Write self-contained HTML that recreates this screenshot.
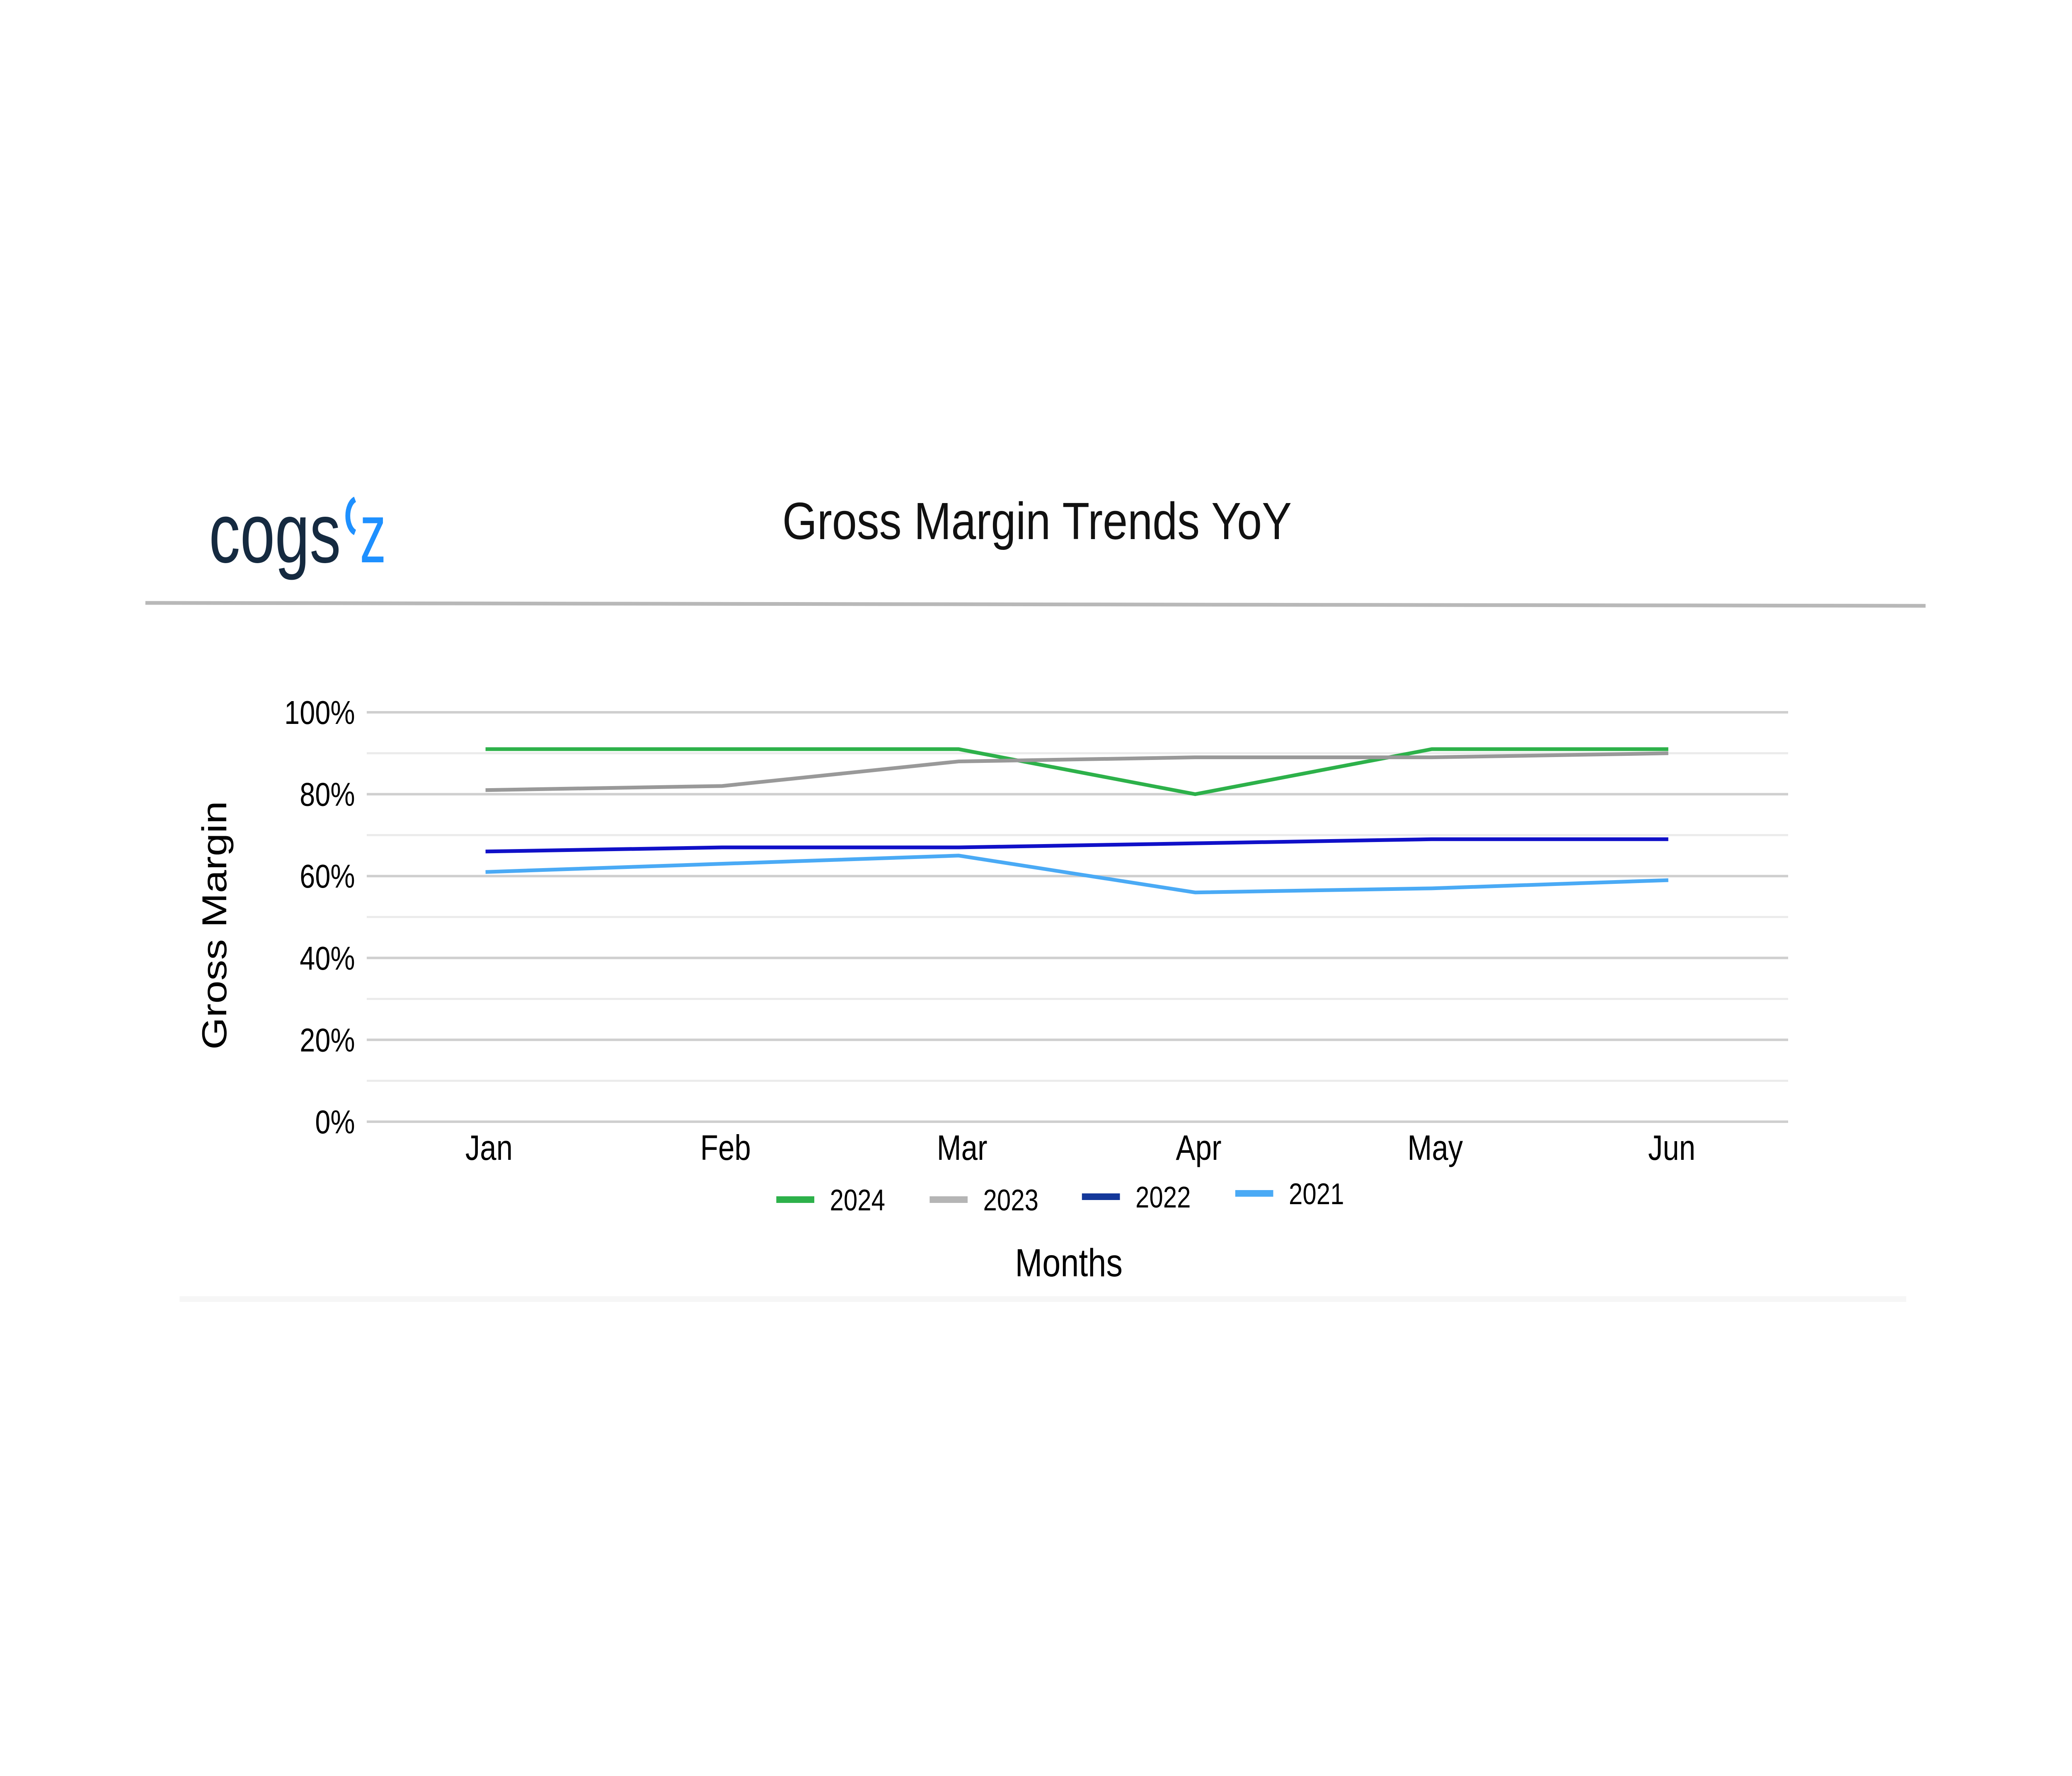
<!DOCTYPE html>
<html><head><meta charset="utf-8">
<style>
html,body{margin:0;padding:0;background:#fff;width:100%;height:100%;overflow:hidden;}
svg{display:block;width:100vw;height:100vh;}
text{font-family:"Liberation Sans",sans-serif;}
</style></head>
<body>
<svg id="chart" viewBox="0 0 6000 4286" preserveAspectRatio="none" xmlns="http://www.w3.org/2000/svg">
  <rect x="0" y="0" width="6000" height="4286" fill="#fff"/>
  <rect x="520" y="3128" width="5000" height="14" fill="#f6f6f6"/>
  <g>
    <text x="605" y="1357" font-size="205" fill="#152a40" textLength="382" lengthAdjust="spacingAndGlyphs">cogs</text>
    <text x="1042" y="1357" font-size="205" fill="#1e90ff" textLength="76" lengthAdjust="spacingAndGlyphs">z</text>
    <path d="M1028 1205 A30 42 0 0 0 1028 1285" stroke="#1e90ff" stroke-width="14" fill="none"/>
  </g>
  <text x="3003" y="1301" font-size="126" text-anchor="middle" fill="#111" textLength="1475" lengthAdjust="spacingAndGlyphs">Gross Margin Trends YoY</text>
  <line x1="421" y1="1455" x2="5576" y2="1462" stroke="#b8b8b8" stroke-width="9"/>
  <g id="grid"></g>
  <g id="series"></g>
  <g id="labels"></g>
  <text transform="translate(655,2233) rotate(-90)" font-size="100" text-anchor="middle" fill="#000">Gross Margin</text>
  <text x="3095" y="3080" font-size="95" text-anchor="middle" fill="#000">Months</text>
  <g id="legend"></g>
</svg>
<script>
const categories = ["Jan","Feb","Mar","Apr","May","Jun"];
const seriesNames = ["2024","2023","2022","2021"];
const values2024 = [91,91,91,80,91,91];
const values2023 = [81,82,88,89,89,90];
const values2022 = [66,67,67,68,69,69];
const values2021 = [61,63,65,56,57,59];
const yTicks = [0,20,40,60,80,100];
const yTickLabels = ["0%","20%","40%","60%","80%","100%"];
const minorTicks = [10,30,50,70,90];

const NS = "http://www.w3.org/2000/svg";
const plotL = 1062, plotR = 5178;
const y0 = 2707, y100 = 1719;
const xFirst = 1406, xStep = 685;
function xScale(i){ return xFirst + i*xStep; }
function yScale(v){ return y0 + (y100 - y0) * v / 100; }
function mk(tag, attrs, parent){
  const e = document.createElementNS(NS, tag);
  for (const k in attrs) e.setAttribute(k, attrs[k]);
  parent.appendChild(e);
  return e;
}
const grid = document.getElementById('grid');
minorTicks.forEach(v => {
  const l = mk('line', {x1:plotL, x2:plotR, y1:yScale(v), y2:yScale(v), stroke:'#ebebeb', 'stroke-width':5}, grid);
  
  
});
const labels = document.getElementById('labels');
yTicks.forEach((v, i) => {
  const l = mk('line', {x1:plotL, x2:plotR, y1:yScale(v), y2:yScale(v), stroke:'#cfcfcf', 'stroke-width':6}, grid);
  
  
  const t = mk('text', {x:1028, y:yScale(v)+28, 'font-size':80, 'text-anchor':'end', fill:'#000'}, labels);
  t.textContent = yTickLabels[i];
  
  
});
categories.forEach((c, i) => {
  const t = mk('text', {x:xScale(i)+10, y:2799, 'font-size':85, 'text-anchor':'middle', fill:'#000'}, labels);
  t.textContent = c;
  
  
});
const allValues = [values2024, values2023, values2022, values2021];
const lineColors = ['#2db14a','#999999','#1010c8','#4aaaf5'];
const legendColors = ['#2db14a','#b5b5b5','#14389a','#4aaaf5'];
const series = document.getElementById('series');
allValues.forEach((vals, s) => {
  const pts = vals.map((v, i) => xScale(i) + ',' + yScale(v)).join(' ');
  const p = mk('polyline', {points:pts, fill:'none', stroke:lineColors[s], 'stroke-width':9, 'stroke-linejoin':'miter'}, series);
  
  
});
const legend = document.getElementById('legend');
const legSwatchX = [2248, 2692, 3133, 3577];
const legY = [2895, 2895, 2888, 2880];
seriesNames.forEach((n, s) => {
  const g = mk('g', {}, legend);
  
  
  const r = mk('rect', {x:legSwatchX[s], y:legY[s]-8, width:110, height:16, fill:legendColors[s]}, g);
  
  
  const t = mk('text', {x:legSwatchX[s]+155, y:legY[s]+26, 'font-size':72, fill:'#000'}, g);
  t.textContent = n;
  
  
});
</script>
</body></html>
